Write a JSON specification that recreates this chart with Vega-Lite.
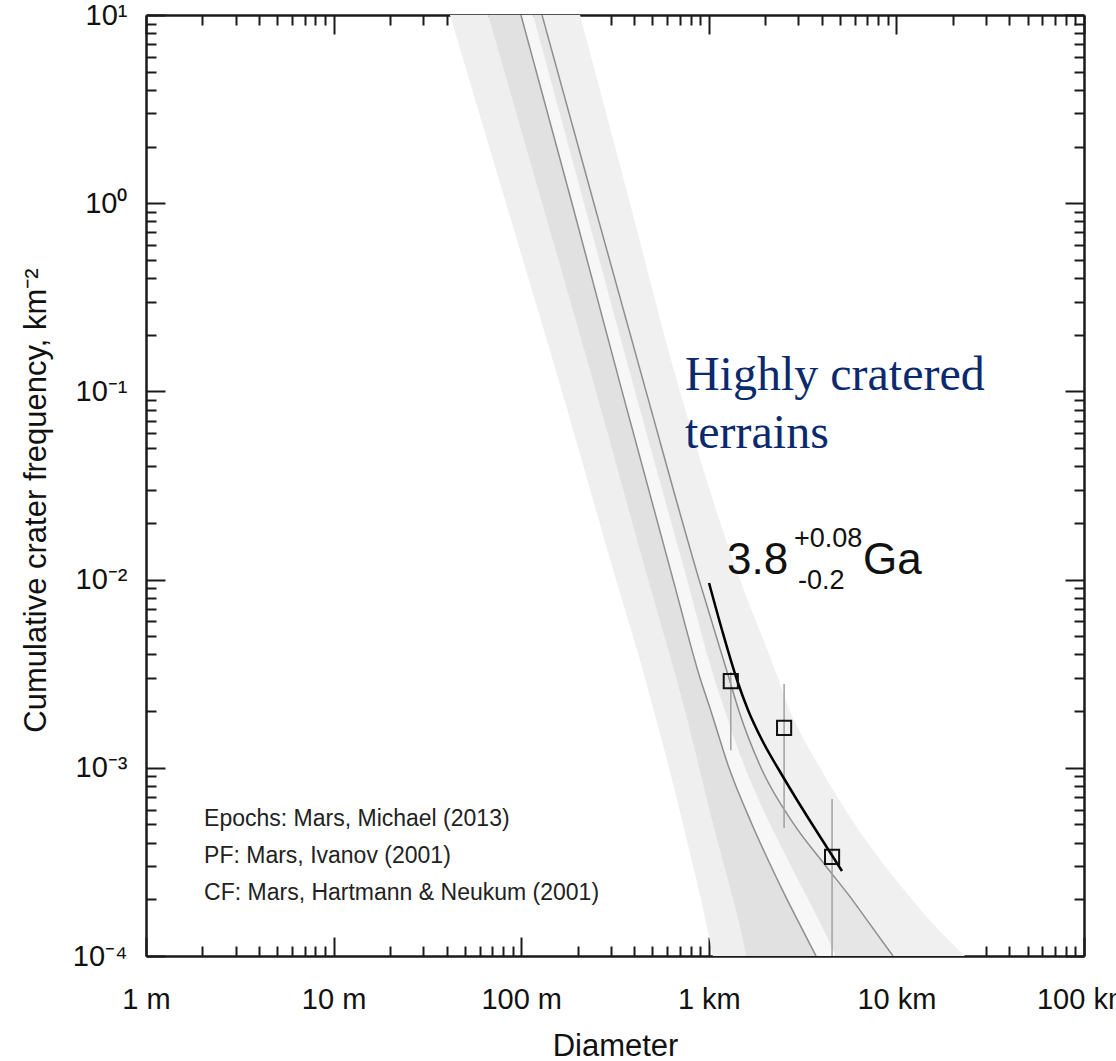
{
  "$schema": "https://vega.github.io/schema/vega-lite/v6.json",
  "width": 938,
  "height": 941,
  "autosize": {"type": "none"},
  "padding": {"left": 146, "top": 15, "right": 32, "bottom": 105},
  "background": "white",
  "config": {
    "view": {"stroke": null},
    "font": "Liberation Sans",
    "axis": {"grid": false, "labelFont": "Liberation Sans", "titleFont": "Liberation Sans", "titleFontWeight": "normal", "labelColor": "#111111", "titleColor": "#111111", "domainColor": "#1a1a1a", "domainWidth": 2.5, "tickColor": "#1a1a1a", "tickWidth": 2, "labelOverlap": false, "labelFlush": false, "labelBound": false}
  },
  "datasets": {
    "bounds": [
      {"N": 10, "L1": 41.7, "L2": 66.5, "A": 99.7, "L4": 115.6, "B": 129.1, "R5": 206},
      {"N": 1, "L1": 83.0, "L2": 129.1, "A": 186.5, "L4": 216, "B": 244, "R5": 380},
      {"N": 0.1, "L1": 165, "L2": 250, "A": 345, "L4": 404, "B": 463, "R5": 702},
      {"N": 0.01, "L1": 320, "L2": 474, "A": 645, "L4": 765, "B": 887, "R5": 1467},
      {"N": 0.003, "L1": 457, "L2": 669, "A": 898, "L4": 1066, "B": 1281, "R5": 2338},
      {"N": 0.002, "L1": 510, "L2": 747, "A": 1027, "L4": 1220, "B": 1449, "R5": 2709},
      {"N": 0.001, "L1": 614, "L2": 887, "A": 1281, "L4": 1560, "B": 1898, "R5": 3915},
      {"N": 0.0005, "L1": 729, "L2": 1053, "A": 1700, "L4": 2120, "B": 2846, "R5": 6016},
      {"N": 0.0003, "L1": 824, "L2": 1205, "A": 2146, "L4": 2743, "B": 4214, "R5": 8694},
      {"N": 0.0002, "L1": 909, "L2": 1346, "A": 2612, "L4": 3380, "B": 5799, "R5": 12110},
      {"N": 0.00015, "L1": 966, "L2": 1449, "A": 3025, "L4": 3915, "B": 7145, "R5": 15480},
      {"N": 0.0001, "L1": 1053, "L2": 1579, "A": 3727, "L4": 4764, "B": 9592, "R5": 23210}
    ],
    "fit": [
      {"D": 1003, "N": 0.00959},
      {"D": 1176, "N": 0.005397},
      {"D": 1414, "N": 0.002927},
      {"D": 1618, "N": 0.002028},
      {"D": 1921, "N": 0.001405},
      {"D": 2367, "N": 0.0009734},
      {"D": 2953, "N": 0.0006745},
      {"D": 3867, "N": 0.0004394},
      {"D": 5129, "N": 0.0002829}
    ],
    "points": [
      {"D": 1310, "N": 0.00289, "lo": 0.00124, "hi": 0.00323},
      {"D": 2520, "N": 0.00163, "lo": 0.000479, "hi": 0.00279},
      {"D": 4540, "N": 0.000336, "lo": 0.0001, "hi": 0.000683}
    ],
    "notes": [
      {"t": "Epochs: Mars, Michael (2013)", "D": 2.04, "N": 0.000491},
      {"t": "PF: Mars, Ivanov (2001)", "D": 2.04, "N": 0.000312},
      {"t": "CF: Mars, Hartmann & Neukum (2001)", "D": 2.04, "N": 0.000199}
    ],
    "terrain": [
      {"t": "Highly cratered", "D": 746, "N": 0.1017},
      {"t": "terrains", "D": 746, "N": 0.05}
    ],
    "age": [
      {"t": "3.8", "D": 1250, "N": 0.01071},
      {"t": "Ga", "D": 6637, "N": 0.01071}
    ],
    "err": [
      {"t": "+0.08", "D": 2845, "N": 0.01489},
      {"t": "-0.2", "D": 2988, "N": 0.00891}
    ]
  },
  "layer": [
    {
      "data": {"name": "bounds"},
      "mark": {"type": "area", "orient": "horizontal", "color": "#efefef", "interpolate": "monotone", "clip": true},
      "encoding": {
        "y": {"field": "N", "type": "quantitative", "scale": {"type": "log", "domain": [0.0001, 10], "nice": false},
          "axis": {"orient": "left",
            "values": [0.0001,0.0002,0.0003,0.0004,0.0005,0.0006,0.0007,0.0008,0.0009,0.001,0.002,0.003,0.004,0.005,0.006,0.007,0.008,0.009,0.01,0.02,0.03,0.04,0.05,0.06,0.07,0.08,0.09,0.1,0.2,0.3,0.4,0.5,0.6,0.7,0.8,0.9,1,2,3,4,5,6,7,8,9,10],
            "labelExpr": "datum.value == 10 ? '10¹' : datum.value == 1 ? '10⁰' : datum.value == 0.1 ? '10⁻¹' : datum.value == 0.01 ? '10⁻²' : datum.value == 0.001 ? '10⁻³' : datum.value == 0.0001 ? '10⁻⁴' : ''",
            "tickSize": {"condition": {"test": "indexof([0.0001,0.001,0.01,0.1,1,10], datum.value) >= 0", "value": -19}, "value": -10},
            "labelPadding": 38, "labelFontSize": 29,
            "title": "Cumulative crater frequency, km⁻²", "titleFontSize": 31, "titlePadding": 20, "titleY": 485}},
        "x": {"field": "L1", "type": "quantitative", "scale": {"type": "log", "domain": [1, 100000], "nice": false},
          "axis": {"orient": "bottom",
            "values": [1,2,3,4,5,6,7,8,9,10,20,30,40,50,60,70,80,90,100,200,300,400,500,600,700,800,900,1000,2000,3000,4000,5000,6000,7000,8000,9000,10000,20000,30000,40000,50000,60000,70000,80000,90000,100000],
            "labelExpr": "datum.value == 1 ? '1 m' : datum.value == 10 ? '10 m' : datum.value == 100 ? '100 m' : datum.value == 1000 ? '1 km' : datum.value == 10000 ? '10 km' : datum.value == 100000 ? '100 km' : ''",
            "tickSize": {"condition": {"test": "indexof([1,10,100,1000,10000,100000], datum.value) >= 0", "value": -19}, "value": -10},
            "labelPadding": 48, "labelFontSize": 29,
            "title": "Diameter", "titleFontSize": 31, "titlePadding": 8}},
        "x2": {"field": "L2"}
      }
    },
    {
      "data": {"name": "bounds"},
      "mark": {"type": "area", "orient": "horizontal", "color": "#e1e1e1", "interpolate": "monotone", "clip": true},
      "encoding": {
        "y": {"field": "N", "type": "quantitative", "scale": {"type": "log", "domain": [0.0001, 10], "nice": false}, "axis": null},
        "x": {"field": "L2", "type": "quantitative", "scale": {"type": "log", "domain": [1, 100000], "nice": false}, "axis": null},
        "x2": {"field": "A"}
      }
    },
    {
      "data": {"name": "bounds"},
      "mark": {"type": "area", "orient": "horizontal", "color": "#f7f7f7", "interpolate": "monotone", "clip": true},
      "encoding": {
        "y": {"field": "N", "type": "quantitative", "scale": {"type": "log", "domain": [0.0001, 10], "nice": false}, "axis": null},
        "x": {"field": "A", "type": "quantitative", "scale": {"type": "log", "domain": [1, 100000], "nice": false}, "axis": null},
        "x2": {"field": "L4"}
      }
    },
    {
      "data": {"name": "bounds"},
      "mark": {"type": "area", "orient": "horizontal", "color": "#e6e6e6", "interpolate": "monotone", "clip": true},
      "encoding": {
        "y": {"field": "N", "type": "quantitative", "scale": {"type": "log", "domain": [0.0001, 10], "nice": false}, "axis": null},
        "x": {"field": "L4", "type": "quantitative", "scale": {"type": "log", "domain": [1, 100000], "nice": false}, "axis": null},
        "x2": {"field": "B"}
      }
    },
    {
      "data": {"name": "bounds"},
      "mark": {"type": "area", "orient": "horizontal", "color": "#f0f0f0", "interpolate": "monotone", "clip": true},
      "encoding": {
        "y": {"field": "N", "type": "quantitative", "scale": {"type": "log", "domain": [0.0001, 10], "nice": false}, "axis": null},
        "x": {"field": "B", "type": "quantitative", "scale": {"type": "log", "domain": [1, 100000], "nice": false}, "axis": null},
        "x2": {"field": "R5"}
      }
    },
    {
      "data": {"name": "bounds"},
      "mark": {"type": "line", "color": "#8e8e8e", "strokeWidth": 1.5, "interpolate": "monotone", "clip": true},
      "encoding": {
        "y": {"field": "N", "type": "quantitative", "scale": {"type": "log", "domain": [0.0001, 10], "nice": false}, "axis": null},
        "x": {"field": "A", "type": "quantitative", "scale": {"type": "log", "domain": [1, 100000], "nice": false}, "axis": null}
      }
    },
    {
      "data": {"name": "bounds"},
      "mark": {"type": "line", "color": "#8e8e8e", "strokeWidth": 1.5, "interpolate": "monotone", "clip": true},
      "encoding": {
        "y": {"field": "N", "type": "quantitative", "scale": {"type": "log", "domain": [0.0001, 10], "nice": false}, "axis": null},
        "x": {"field": "B", "type": "quantitative", "scale": {"type": "log", "domain": [1, 100000], "nice": false}, "axis": null}
      }
    },
    {
      "data": {"name": "points"},
      "mark": {"type": "rule", "color": "#a0a0a0", "strokeWidth": 1.5, "clip": true},
      "encoding": {
        "x": {"field": "D", "type": "quantitative", "scale": {"type": "log", "domain": [1, 100000], "nice": false}, "axis": null},
        "y": {"field": "lo", "type": "quantitative", "scale": {"type": "log", "domain": [0.0001, 10], "nice": false}, "axis": null},
        "y2": {"field": "hi"}
      }
    },
    {
      "data": {"name": "fit"},
      "mark": {"type": "line", "color": "#000000", "strokeWidth": 2.5, "interpolate": "monotone", "clip": true},
      "encoding": {
        "x": {"field": "D", "type": "quantitative", "scale": {"type": "log", "domain": [1, 100000], "nice": false}, "axis": null},
        "y": {"field": "N", "type": "quantitative", "scale": {"type": "log", "domain": [0.0001, 10], "nice": false}, "axis": null}
      }
    },
    {
      "data": {"name": "points"},
      "mark": {"type": "point", "shape": "square", "filled": false, "size": 200, "stroke": "#111111", "strokeWidth": 2, "opacity": 1},
      "encoding": {
        "x": {"field": "D", "type": "quantitative", "scale": {"type": "log", "domain": [1, 100000], "nice": false}, "axis": null},
        "y": {"field": "N", "type": "quantitative", "scale": {"type": "log", "domain": [0.0001, 10], "nice": false}, "axis": null}
      }
    },
    {
      "data": {"name": "notes"},
      "mark": {"type": "text", "align": "left", "baseline": "alphabetic", "fontSize": 23, "color": "#222222", "font": "Liberation Sans"},
      "encoding": {
        "x": {"field": "D", "type": "quantitative", "scale": {"type": "log", "domain": [1, 100000], "nice": false},
          "axis": {"orient": "top", "labels": false, "title": null,
            "values": [1,2,3,4,5,6,7,8,9,10,20,30,40,50,60,70,80,90,100,200,300,400,500,600,700,800,900,1000,2000,3000,4000,5000,6000,7000,8000,9000,10000,20000,30000,40000,50000,60000,70000,80000,90000,100000],
            "tickSize": {"condition": {"test": "indexof([1,10,100,1000,10000,100000], datum.value) >= 0", "value": -19}, "value": -10}}},
        "y": {"field": "N", "type": "quantitative", "scale": {"type": "log", "domain": [0.0001, 10], "nice": false},
          "axis": {"orient": "right", "labels": false, "title": null,
            "values": [0.0001,0.0002,0.0003,0.0004,0.0005,0.0006,0.0007,0.0008,0.0009,0.001,0.002,0.003,0.004,0.005,0.006,0.007,0.008,0.009,0.01,0.02,0.03,0.04,0.05,0.06,0.07,0.08,0.09,0.1,0.2,0.3,0.4,0.5,0.6,0.7,0.8,0.9,1,2,3,4,5,6,7,8,9,10],
            "tickSize": {"condition": {"test": "indexof([0.0001,0.001,0.01,0.1,1,10], datum.value) >= 0", "value": -19}, "value": -10}}},
        "text": {"field": "t"}
      }
    },
    {
      "data": {"name": "terrain"},
      "mark": {"type": "text", "align": "left", "baseline": "alphabetic", "fontSize": 48, "color": "#0b2a6e", "font": "Liberation Serif"},
      "encoding": {
        "x": {"field": "D", "type": "quantitative", "scale": {"type": "log", "domain": [1, 100000], "nice": false}, "axis": null},
        "y": {"field": "N", "type": "quantitative", "scale": {"type": "log", "domain": [0.0001, 10], "nice": false}, "axis": null},
        "text": {"field": "t"}
      }
    },
    {
      "data": {"name": "age"},
      "mark": {"type": "text", "align": "left", "baseline": "alphabetic", "fontSize": 44, "color": "#111111", "font": "Liberation Sans"},
      "encoding": {
        "x": {"field": "D", "type": "quantitative", "scale": {"type": "log", "domain": [1, 100000], "nice": false}, "axis": null},
        "y": {"field": "N", "type": "quantitative", "scale": {"type": "log", "domain": [0.0001, 10], "nice": false}, "axis": null},
        "text": {"field": "t"}
      }
    },
    {
      "data": {"name": "err"},
      "mark": {"type": "text", "align": "left", "baseline": "alphabetic", "fontSize": 27, "color": "#111111", "font": "Liberation Sans"},
      "encoding": {
        "x": {"field": "D", "type": "quantitative", "scale": {"type": "log", "domain": [1, 100000], "nice": false}, "axis": null},
        "y": {"field": "N", "type": "quantitative", "scale": {"type": "log", "domain": [0.0001, 10], "nice": false}, "axis": null},
        "text": {"field": "t"}
      }
    }
  ],
  "resolve": {"axis": {"x": "independent", "y": "independent"}}
}
